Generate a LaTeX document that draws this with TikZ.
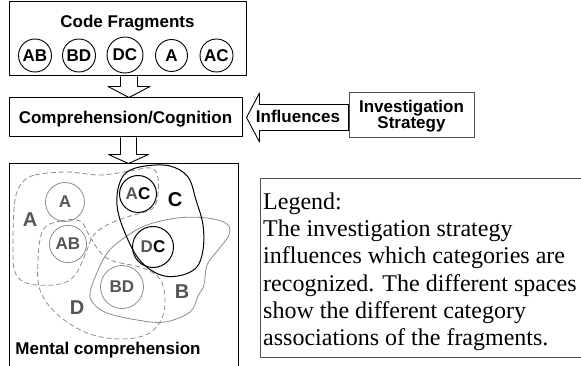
\documentclass[tikz,border=0pt]{standalone}
\usepackage{fontspec}
\setmainfont{Liberation Serif}
\setsansfont{Liberation Sans}
\usetikzlibrary{calc}
\definecolor{lgray}{HTML}{8C8C8C}
\definecolor{tgray}{HTML}{555555}
\definecolor{bgray}{HTML}{505050}
\begin{document}
\begin{tikzpicture}[x=1pt,y=-1pt,line join=round,
  box/.style={draw=black,line width=1pt,rectangle,inner sep=0pt},
  sf/.style={font=\sffamily\bfseries\fontsize{17}{15}\selectfont},
  big/.style={font=\sffamily\bfseries\fontsize{20}{20}\selectfont,text=tgray},
  frag/.style={circle,draw=black,line width=0.9pt,inner sep=0pt,sf},
  gcirc/.style={circle,draw=lgray,line width=0.8pt,inner sep=0pt,sf,text=tgray},
  bcirc/.style={circle,draw=black,line width=1pt,inner sep=0pt,sf},
  hollow/.style={draw=black,line width=0.9pt,fill=white},
  gdash/.style={draw=lgray,line width=0.8pt,dash pattern=on 5pt off 3pt},
  gsolid/.style={draw=lgray,line width=0.8pt},
  bsolid/.style={draw=black,line width=1pt}]
\useasboundingbox (0,0) rectangle (581,366);
\clip (0,0) rectangle (581,366);

% --- Code fragments ---
\node[box,minimum width=237,minimum height=74] (cf) at (127.5,39) {};
\node[sf,anchor=base] (cft) at (127.5,27.5) {Code Fragments};
\node[frag,minimum size=33] (f1) at (35,55.5) {AB};
\node[frag,minimum size=33] (f2) at (79,55.5) {BD};
\node[frag,minimum size=36] (f3) at (125,55) {DC};
\node[frag,minimum size=32] (f4) at (171.5,55.5) {A};
\node[frag,minimum size=33] (f5) at (216.5,55.5) {AC};

% --- Comprehension ---
\node[box,minimum width=233,minimum height=39] (comp) at (125.5,117.5) {};
\node[sf,anchor=base] (compt) at (125.5,123.5) {Comprehension/Cognition};

% --- Investigation strategy ---
\node[box,draw=bgray,minimum width=125,minimum height=45] (inv) at (411.5,115.5) {};
\node[sf,align=center,anchor=north,inner sep=0pt] (invt) at (411.5,99.8) {Investigation\\Strategy};

% --- Mental comprehension box ---
\node[box,minimum width=229,minimum height=212] (mental) at (123.5,270) {};
\node[sf,anchor=base] (mentt) at (108,354) {Mental comprehension};

% --- Legend ---
\node[rectangle,draw=bgray,line width=1pt,minimum width=340,minimum height=178] (leg) at (430,268) {};
\node[anchor=north west,inner sep=0pt,align=left,font=\fontsize{24}{27.2}\selectfont] (legt) at (263,192.6)
 {Legend:\\The investigation strategy\\influences which categories are\\recognized. The different spaces\\show the different category\\associations of the fragments.};

% --- hollow arrows ---
\coordinate (tipA) at ($(cf.south |- comp.north)+(1.5,0)$);
\coordinate (topA) at ($(cf.south)+(1.5,0)$);
\draw[hollow] ($(topA)+(-8.5,0)$) -- ($(tipA)+(-8.5,-11)$) -- ($(tipA)+(-21,-11)$) -- (tipA)
  -- ($(tipA)+(21,-11)$) -- ($(tipA)+(8.5,-11)$) -- ($(topA)+(8.5,0)$);
\coordinate (tipB) at ($(comp.south |- mental.north)+(3,0)$);
\coordinate (topB) at ($(comp.south)+(3,0)$);
\draw[hollow] ($(topB)+(-8,0)$) -- ($(tipB)+(-8,-9)$) -- ($(tipB)+(-20,-9)$) -- (tipB)
  -- ($(tipB)+(20,-9)$) -- ($(tipB)+(8,-9)$) -- ($(topB)+(8,0)$);
\coordinate (tipC) at ($(comp.east)+(4,0)$);
\coordinate (endC) at (inv.west |- tipC);
\draw[hollow] (tipC) -- ($(tipC)+(13,-24.5)$) -- ($(tipC)+(13,-13)$) -- ($(endC)+(0,-13)$)
  -- ($(endC)+(0,13)$) -- ($(tipC)+(13,13)$) -- ($(tipC)+(13,24.5)$) -- cycle;
\node[sf,anchor=base] (inft) at (298,123) {Influences};

% --- regions ---
% A region (dashed)
\draw[gdash] plot[smooth cycle,tension=0.6] coordinates {(22,183) (35,175) (67,172) (100,175) (130,171) (151,168) (158,178) (157,200) (150,210) (127,217) (107,225) (93,236) (85,255) (75,275) (60,284) (30,284) (15,272) (13,240) (15,200)};
% D region (dashed)
\draw[gdash] plot[smooth cycle,tension=0.6] coordinates {(43,230) (60,221) (80,221) (89,235) (100,252) (113,261) (143,268) (160,279) (165,298) (162,318) (148,334) (120,339) (87,333) (57,314) (40,290) (38,260)};
% B region (solid gray)
\draw[gsolid] plot[smooth cycle,tension=0.6] coordinates {(90,293) (96,275) (108,252) (127,236) (147,225) (177,218) (207,218) (227,224) (229,235) (218,250) (207,265) (204,285) (198,296) (190,312) (165,322) (137,320) (107,313) (93,303)};
% C region (black)
\draw[bsolid] plot[smooth cycle,tension=0.6] coordinates {(127,172) (145,166) (170,166) (188,177) (196,200) (203,225) (203,250) (196,268) (178,276) (158,274) (138,258) (123,228) (117,205) (119,185)};

% --- mental circles ---
\node[gcirc,minimum size=39] (mA) at (65,202) {A};
\node[gcirc,minimum size=37] (mAB) at (68,244) {AB};
\node[bcirc,minimum size=37] (mAC) at (138,194) {\textcolor{tgray}{A}C};
\node[bcirc,minimum size=41] (mDC) at (153,247) {\textcolor{tgray}{D}C};
\node[gcirc,minimum size=43] (mBD) at (122,287) {BD};

% --- region labels ---
\node[big] (lA) at (30,220) {A};
\node[big,text=black] (lC) at (175,200) {C};
\node[big] (lB) at (182,292) {B};
\node[big] (lD) at (77,308) {D};
\end{tikzpicture}
\end{document}
